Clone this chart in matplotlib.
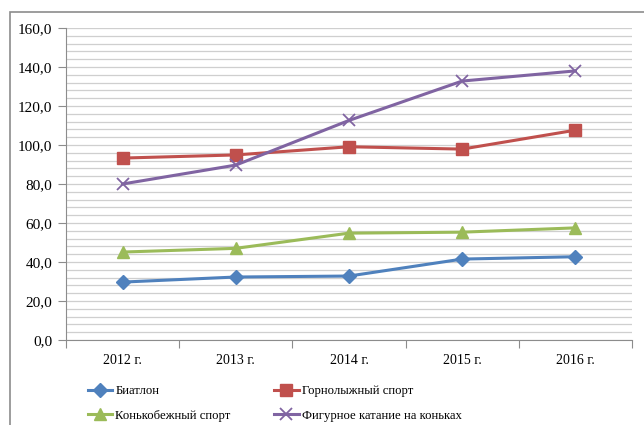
import matplotlib
matplotlib.use("Agg")
import matplotlib.pyplot as plt
from matplotlib.patches import Rectangle
from matplotlib.ticker import FuncFormatter, MultipleLocator

plt.rcParams['font.family'] = ['Liberation Serif', 'DejaVu Serif']

years = ["2012 г.", "2013 г.", "2014 г.", "2015 г.", "2016 г."]
biathlon = [29.7, 32.3, 32.8, 41.5, 42.7]
alpine = [93.3, 94.9, 99.1, 97.9, 107.6]
speed_skating = [45.1, 47.0, 54.8, 55.3, 57.5]
figure_skating = [80.0, 89.7, 112.6, 132.8, 138.0]

W, H = 644, 425
fig = plt.figure(figsize=(W / 100, H / 100), dpi=100)

# outer chart frame (cut off at right and bottom)
fig.patches.append(Rectangle((10 / W, -0.1), 1.2, (H - 12) / H + 0.1,
                             transform=fig.transFigure, fill=False,
                             edgecolor='#8c8c8c', linewidth=1.2))

ax = fig.add_axes([66 / W, (H - 340) / H, 566 / W, 312 / H])
x = range(len(years))

ax.plot(x, biathlon, color='#4F81BD', lw=2.2, marker='D', ms=7.5, label='Биатлон')
ax.plot(x, alpine, color='#C0504D', lw=2.2, marker='s', ms=9, label='Горнолыжный спорт')
ax.plot(x, speed_skating, color='#9BBB59', lw=2.2, marker='^', ms=9, label='Конькобежный спорт')
ax.plot(x, figure_skating, color='#8064A2', lw=2.2, marker='x', ms=9, mew=1.3,
        label='Фигурное катание на коньках')

ax.set_xlim(-0.5, len(years) - 0.5)
ax.set_ylim(0, 160)
ax.yaxis.set_major_locator(MultipleLocator(20))
ax.yaxis.set_minor_locator(MultipleLocator(4))
ax.yaxis.set_major_formatter(FuncFormatter(lambda v, p: f"{v:.1f}".replace('.', ',')))
ax.grid(axis='y', which='both', color='#cfcfcf', lw=0.9)
ax.set_axisbelow(True)

ax.set_xticks([i - 0.5 for i in range(len(years) + 1)])
ax.set_xticklabels([])
ax.set_xticks(list(x), minor=True)
ax.set_xticklabels(years, minor=True)
ax.tick_params(axis='x', which='major', length=6, color='#8c8c8c', direction='out')
ax.tick_params(axis='x', which='minor', length=0, pad=10, labelsize=10)
ax.tick_params(axis='y', which='major', length=6, color='#8c8c8c', labelsize=11, pad=4)
ax.tick_params(axis='y', which='minor', length=0)

for s in ['top', 'right']:
    ax.spines[s].set_visible(False)
for s in ['left', 'bottom']:
    ax.spines[s].set_color('#8c8c8c')

h, l = ax.get_legend_handles_labels()
order = [0, 2, 1, 3]
fig.legend([h[i] for i in order], [l[i] for i in order], ncol=2,
           loc='upper left', bbox_to_anchor=(88 / W, 1 - 385 / H),
           frameon=False, fontsize=9.2, handlelength=1.9, handletextpad=0.25,
           columnspacing=3.4, labelspacing=1.0, borderpad=0, borderaxespad=0)

fig.savefig("out.png", dpi=100)
